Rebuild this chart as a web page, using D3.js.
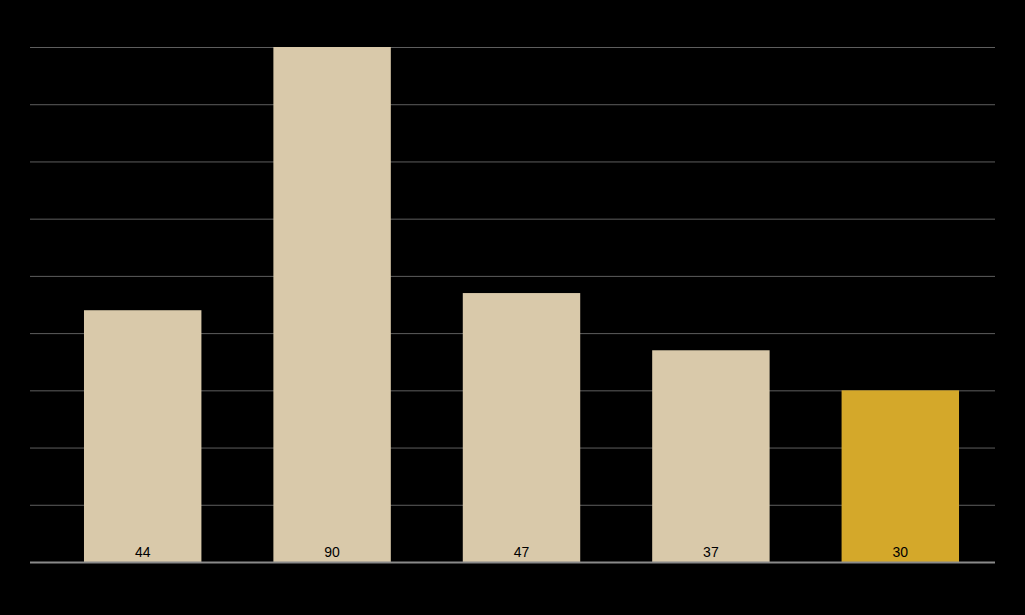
<!DOCTYPE html>
<html>
    <head>
        <style>
        html, body{
            margin: 0;
            background: #000;
        }
        svg{
            display: block;
            background: #000;
        }</style>
    </head>
    <body>
        <svg width="1025" height="615"></svg>

        <script src="https://cdnjs.cloudflare.com/ajax/libs/d3/7.8.5/d3.min.js"></script>
        <script>
            const categories = ["A", "B", "C", "D", "E"];
            const values = [44, 90, 47, 37, 30];
            const highlight = ["E"];
            const yTicks = [0, 10, 20, 30, 40, 50, 60, 70, 80, 90];

            const width = 1025;
            const height = 615;
            const margin = {top: 47, left: 30, right: 30, bottom: 53};

            let svg = d3.select("svg");

            let xScale = d3.scaleBand()
                .domain(categories)
                .range([48, width - margin.right])
                .paddingInner(0.38)
                .paddingOuter(0.19);

            let yScale = d3.scaleLinear()
                .domain([0, 90])
                .range([height - margin.bottom, margin.top]);

            // gridlines (labels are black on black, like the original)
            let yAxis = d3.axisLeft(yScale)
                .tickValues(yTicks)
                .tickSize(-(width - margin.left - margin.right))
                .tickPadding(4);
            let grid = svg.append("g")
                .attr("transform", "translate(" + [margin.left, 0] + ")")
                .call(yAxis);
            grid.select(".domain").remove();
            grid.selectAll("line")
                .attr("stroke", "#5e5e5e")
                .attr("stroke-width", 1);
            grid.selectAll("text")
                .attr("fill", "#000")
                .style("font-family", "Liberation Sans, Arial, sans-serif")
                .style("font-size", "12px");

            let data = categories.map((c, i) => ({cat: c, val: values[i]}));

            svg.selectAll("rect.bar")
                .data(data)
                .enter().append("rect")
                .attr("class", "bar")
                .attr("x", d => xScale(d.cat))
                .attr("y", d => yScale(d.val))
                .attr("width", xScale.bandwidth())
                .attr("height", d => yScale(0) - yScale(d.val))
                .attr("fill", d => highlight.includes(d.cat) ? "#d4a82a" : "#d9c9aa");

            svg.selectAll("text.lbl")
                .data(data)
                .enter().append("text")
                .attr("class", "lbl")
                .attr("x", d => xScale(d.cat) + xScale.bandwidth() / 2)
                .attr("y", yScale(0) - 5)
                .attr("text-anchor", "middle")
                .attr("fill", "#000")
                .style("font-family", "Liberation Sans, Arial, sans-serif")
                .style("font-size", "14px")
                .text(d => d.val);

            // baseline
            svg.append("line")
                .attr("x1", margin.left)
                .attr("x2", width - margin.right)
                .attr("y1", yScale(0) + 0.5)
                .attr("y2", yScale(0) + 0.5)
                .attr("stroke", "#8a8a8a")
                .attr("stroke-width", 2);
        </script>
    </body>
</html>
